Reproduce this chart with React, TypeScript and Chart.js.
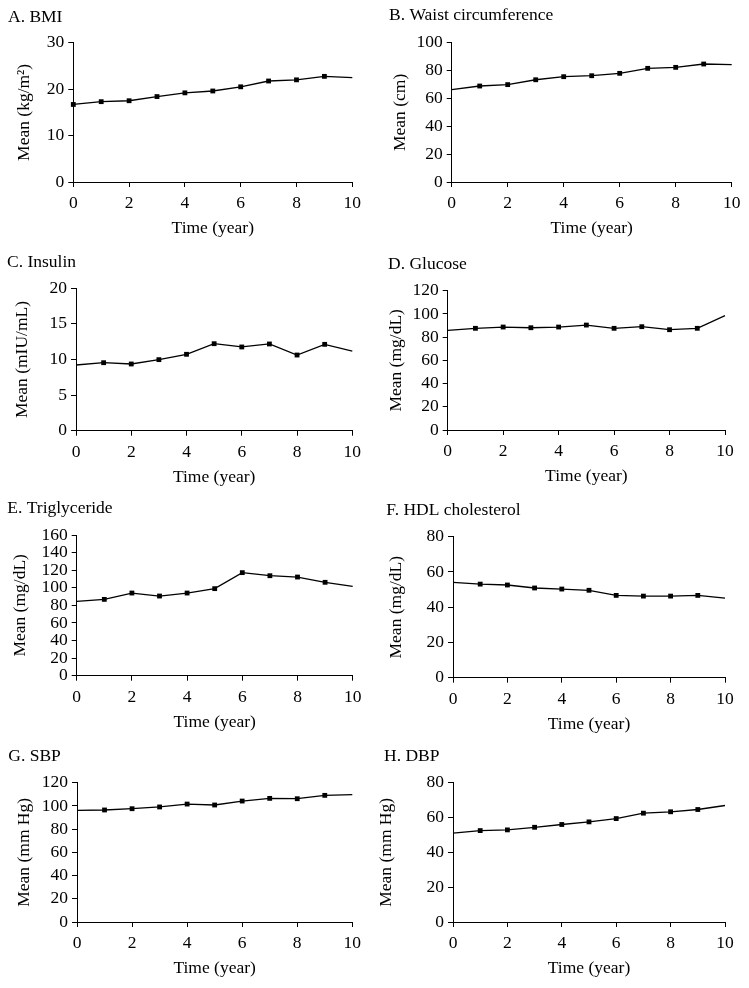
import React, { useEffect, useRef } from "react";
import { Chart, registerables } from "chart.js";

Chart.register(...registerables);

// ---- Data ----
const years = [0, 1, 2, 3, 4, 5, 6, 7, 8, 9, 10];
const xTicks = [0, 2, 4, 6, 8, 10];

const bmi = [16.7, 17.3, 17.5, 18.4, 19.2, 19.6, 20.5, 21.75, 22.0, 22.75, 22.5];
const waist = [66.3, 68.9, 69.9, 73.4, 75.6, 76.3, 78.0, 81.6, 82.3, 84.7, 84.2];
const insulin = [9.23, 9.55, 9.37, 9.98, 10.73, 12.22, 11.76, 12.18, 10.63, 12.13, 11.19];
const glucose = [85.8, 87.6, 88.7, 88.1, 88.7, 90.4, 87.6, 89.0, 86.4, 87.6, 98.5];
const triglyceride = [84.5, 86.8, 94.0, 90.6, 94.0, 99.0, 117.2, 113.7, 112.2, 106.2, 101.6];
const hdl = [54.1, 53.1, 52.6, 50.9, 50.3, 49.6, 46.7, 46.3, 46.3, 46.7, 45.2];
const sbp = [96.2, 96.5, 97.6, 99.1, 101.6, 100.8, 104.2, 106.5, 106.2, 109.1, 109.7];
const dbp = [51.0, 52.5, 52.9, 54.4, 56.0, 57.5, 59.4, 62.5, 63.3, 64.6, 66.9];

const panelTitles = [
  "A. BMI",
  "B. Waist circumference",
  "C. Insulin",
  "D. Glucose",
  "E. Triglyceride",
  "F. HDL cholesterol",
  "G. SBP",
  "H. DBP",
];
const yLabels = [
  "Mean (kg/m\u00B2)",
  "Mean (cm)",
  "Mean (mIU/mL)",
  "Mean (mg/dL)",
  "Mean (mg/dL)",
  "Mean (mg/dL)",
  "Mean (mm Hg)",
  "Mean (mm Hg)",
];
const yMax = [30, 100, 20, 120, 160, 80, 120, 80];
const yStep = [10, 20, 5, 20, 20, 20, 20, 20];
const xLabel = "Time (year)";
// which points show a square marker (first point only marked in panel A)
const markFirst = [true, false, false, false, false, false, false, false];

const seriesList = [bmi, waist, insulin, glucose, triglyceride, hdl, sbp, dbp];

// ---- Layout (page coordinates) ----
const FONT = "'Liberation Serif', 'Times New Roman', Times, serif";
const FS = 17.5;
const LH = FS * 1.2;

const rowTops = [0, 245, 493, 738];
const rowBottoms = [245, 493, 738, 988];
const colLefts = [0, 374];
const colWidths = [374, 375];

type Geo = {
  titleLeft: number;
  titleMid: number;
  yTitleMid: number;
  plotLeft: number;
  plotRight: number;
  plotTop: number;
  plotBottom: number;
};

const geos: Geo[] = [
  { titleLeft: 8, titleMid: 17.5, yTitleMid: 24.3, plotLeft: 73.3, plotRight: 352.3, plotTop: 42.7, plotBottom: 182 },
  { titleLeft: 389, titleMid: 15.5, yTitleMid: 400, plotLeft: 451.7, plotRight: 731.7, plotTop: 42.7, plotBottom: 182 },
  { titleLeft: 7, titleMid: 262.7, yTitleMid: 22.7, plotLeft: 76, plotRight: 352.3, plotTop: 288.3, plotBottom: 430.7 },
  { titleLeft: 388, titleMid: 264, yTitleMid: 396, plotLeft: 447.7, plotRight: 725, plotTop: 290.7, plotBottom: 430 },
  { titleLeft: 7.3, titleMid: 508.3, yTitleMid: 20, plotLeft: 76.7, plotRight: 352.7, plotTop: 535, plotBottom: 675.7 },
  { titleLeft: 386.3, titleMid: 510, yTitleMid: 396, plotLeft: 453, plotRight: 725, plotTop: 536.7, plotBottom: 677.7 },
  { titleLeft: 8.3, titleMid: 756, yTitleMid: 24.3, plotLeft: 77, plotRight: 352.3, plotTop: 782.7, plotBottom: 922 },
  { titleLeft: 384, titleMid: 756, yTitleMid: 386.7, plotLeft: 453, plotRight: 725, plotTop: 782.7, plotBottom: 922 },
];

function Panel({ idx }: { idx: number }) {
  const ref = useRef<HTMLCanvasElement | null>(null);
  const row = Math.floor(idx / 2);
  const col = idx % 2;
  const cx = colLefts[col];
  const cy = rowTops[row];
  const cw = colWidths[col];
  const ch = rowBottoms[row] - rowTops[row];
  const g = geos[idx];

  useEffect(() => {
    if (!ref.current) return;
    const values = seriesList[idx];
    const n = years.length;
    const radii = years.map((_, i) =>
      i === n - 1 ? 0 : i === 0 ? (markFirst[idx] ? 3.4 : 0) : 3.4
    );
    const titlePadTop = g.titleMid - cy - LH / 2;
    const titlePadBottom = g.plotTop - g.titleMid - LH / 2;
    const yWidth = g.plotLeft - g.titleLeft;
    const yTitlePad = g.yTitleMid - g.titleLeft - LH / 2;
    const xHeight = cy + ch - g.plotBottom;
    const xTitleMid = g.plotBottom + 46.8;
    const xTitlePad = cy + ch - xTitleMid - LH / 2;

    const chart = new Chart(ref.current, {
      type: "line",
      data: {
        datasets: [
          {
            data: years.map((x, i) => ({ x, y: values[i] })),
            borderColor: "#000",
            backgroundColor: "#000",
            borderWidth: 1.3,
            pointStyle: "rect",
            pointRadius: radii,
            pointBackgroundColor: "#000",
            pointBorderColor: "#000",
            pointBorderWidth: 0,
            tension: 0,
            clip: false,
          },
        ],
      },
      options: {
        animation: false,
        responsive: false,
        maintainAspectRatio: false,
        events: [],
        layout: {
          padding: {
            left: g.titleLeft - cx,
            right: cx + cw - g.plotRight,
            top: 0,
            bottom: 0,
          },
        },
        plugins: {
          legend: { display: false },
          tooltip: { enabled: false },
          title: {
            display: true,
            text: panelTitles[idx],
            align: "start",
            color: "#000",
            font: { family: FONT, size: FS, weight: "normal", lineHeight: 1.2 },
            padding: { top: titlePadTop, bottom: titlePadBottom },
          },
        },
        scales: {
          x: {
            type: "linear",
            min: 0,
            max: 10,
            afterFit: (s: any) => {
              s.height = xHeight;
            },
            afterBuildTicks: (s: any) => {
              s.ticks = xTicks.map((v) => ({ value: v }));
            },
            ticks: {
              color: "#000",
              font: { family: FONT, size: FS, lineHeight: 1.2 },
              padding: 6,
              maxRotation: 0,
              autoSkip: false,
            },
            grid: {
              display: true,
              drawOnChartArea: false,
              drawTicks: true,
              tickLength: 5,
              color: "#000",
              lineWidth: 1,
            },
            border: { display: true, color: "#000", width: 1 },
            title: {
              display: true,
              text: xLabel,
              color: "#000",
              font: { family: FONT, size: FS, lineHeight: 1.2 },
              padding: { top: 0, bottom: xTitlePad },
            },
          },
          y: {
            type: "linear",
            min: 0,
            max: yMax[idx],
            afterFit: (s: any) => {
              s.width = yWidth;
            },
            ticks: {
              stepSize: yStep[idx],
              color: "#000",
              font: { family: FONT, size: FS, lineHeight: 1.2 },
              padding: 4,
              autoSkip: false,
            },
            grid: {
              display: true,
              drawOnChartArea: false,
              drawTicks: true,
              tickLength: 5,
              color: "#000",
              lineWidth: 1,
            },
            border: { display: true, color: "#000", width: 1 },
            title: {
              display: true,
              text: yLabels[idx],
              color: "#000",
              font: { family: FONT, size: FS, lineHeight: 1.2 },
              padding: { top: yTitlePad, bottom: 0 },
            },
          },
        },
      },
    } as any);
    return () => chart.destroy();
  }, [idx]);

  return (
    <canvas
      ref={ref}
      width={cw}
      height={ch}
      style={{ position: "absolute", left: cx, top: cy, width: cw, height: ch, display: "block" }}
    />
  );
}

export default function App() {
  return (
    <div style={{ position: "absolute", left: 0, top: 0, width: 749, height: 988, background: "#fff" }}>
      {panelTitles.map((_, i) => (
        <Panel key={i} idx={i} />
      ))}
    </div>
  );
}
